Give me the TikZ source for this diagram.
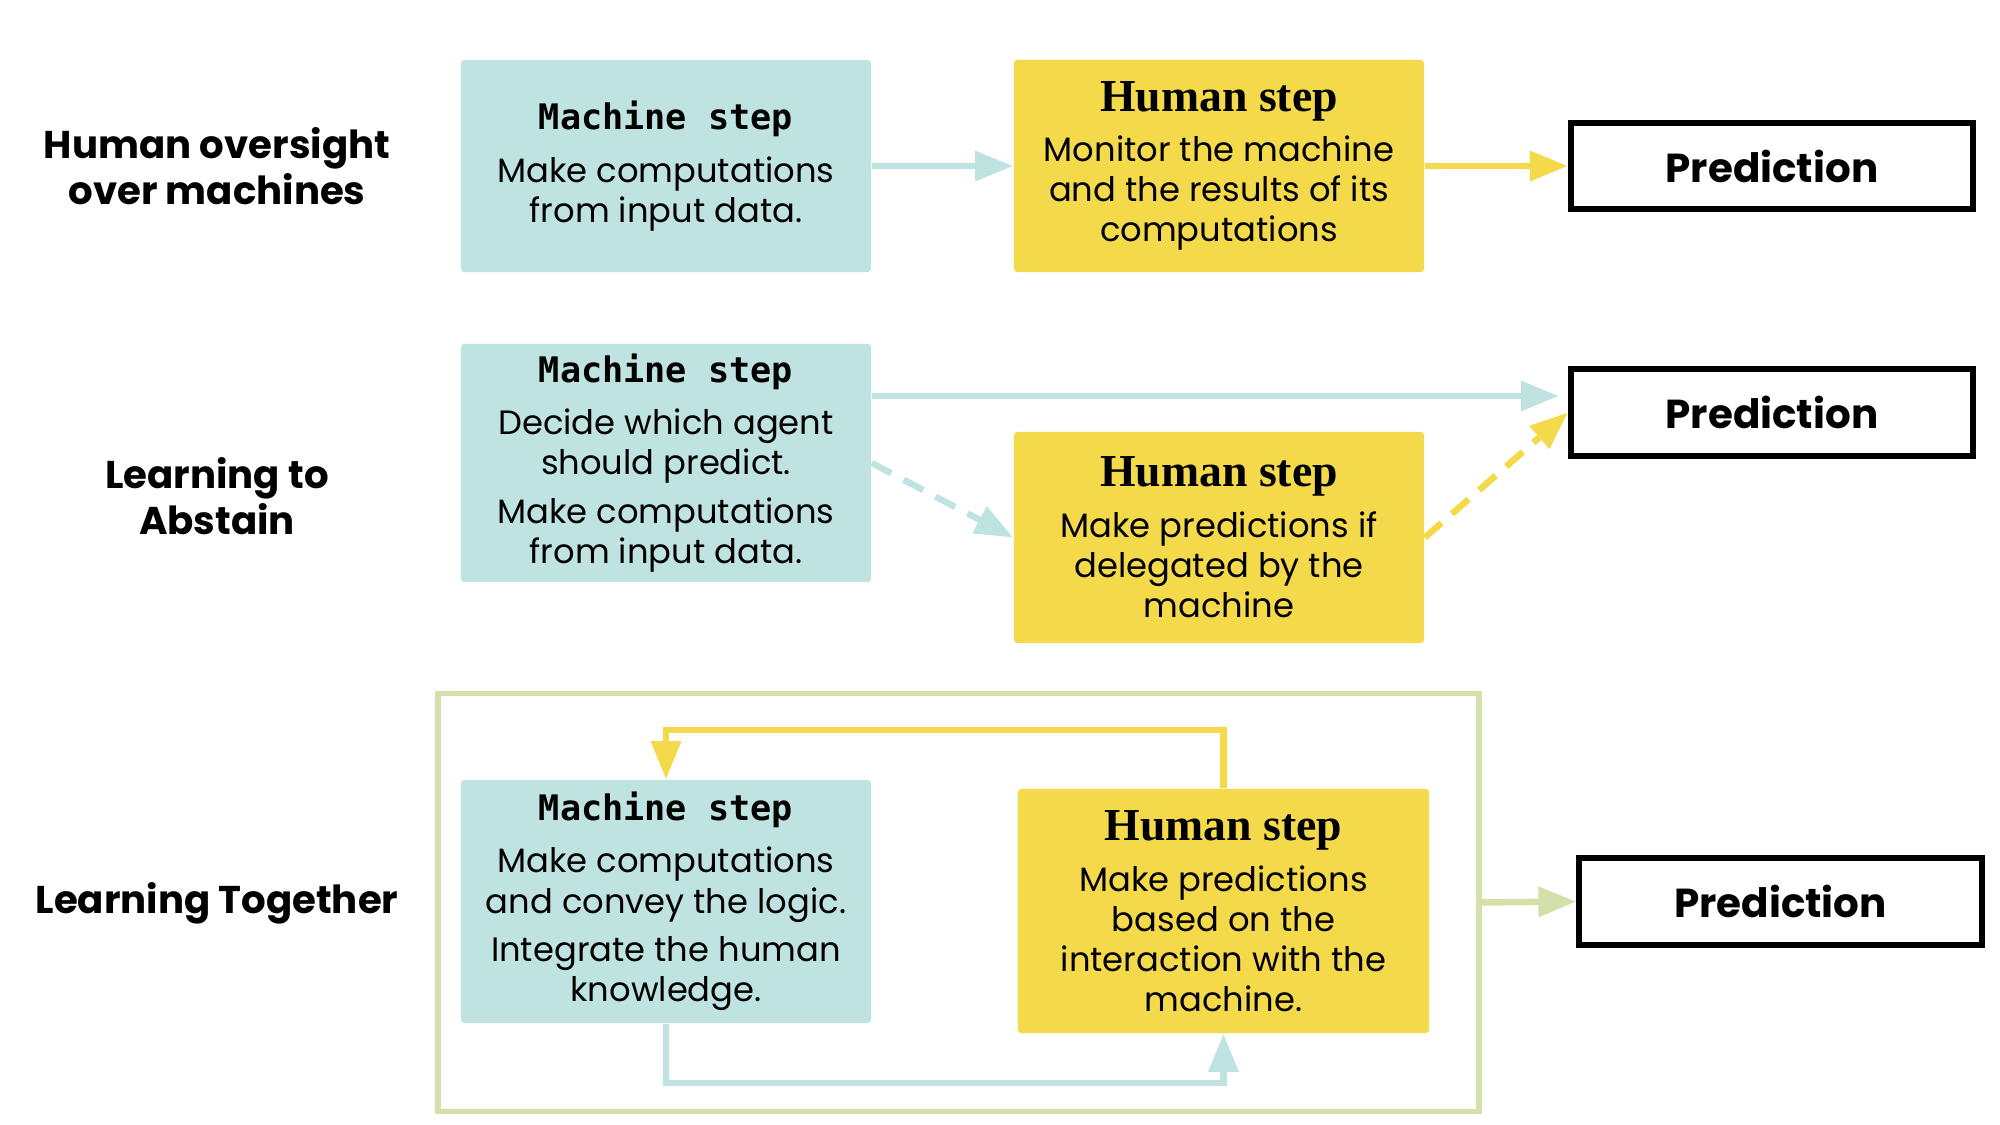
\documentclass[tikz,border=0pt]{standalone}
\usepackage{fontspec}
\setmainfont{Poppins}
\newfontfamily\monofont{DejaVu Sans Mono}
\newfontfamily\serifont{Liberation Serif}
\usetikzlibrary{arrows.meta}
\definecolor{mteal}{RGB}{191,227,224}
\definecolor{hyellow}{RGB}{244,218,75}
\definecolor{fgreen}{RGB}{212,224,170}
\newcommand\mstep{{\monofont\bfseries\fontsize{10}{12}\selectfont Machine step}}
\newcommand\hstep{{\serifont\bfseries\fontsize{13}{15}\selectfont Human step}}
\begin{document}
\begin{tikzpicture}[x=0.01cm,y=-0.01cm,mach/.style={shape=rectangle,fill=mteal,rounded corners=1pt,minimum width=4.1cm,align=center,inner sep=0pt,font=\fontsize{9.6}{11.4}\selectfont},hum/.style={mach,fill=hyellow},pred/.style={shape=rectangle,draw=black,line width=0.06cm,minimum width=4.02cm,minimum height=0.86cm,font=\fontsize{11.5}{14}\selectfont\bfseries},lab/.style={align=center,font=\fontsize{11}{13}\selectfont\bfseries},tarr/.style={draw=mteal,line width=0.065cm,-{Triangle[length=0.38cm,width=0.29cm]}},yarr/.style={tarr,draw=hyellow},garr/.style={tarr,draw=fgreen},dsh/.style={dash pattern=on 0.22cm off 0.14cm},frame/.style={shape=rectangle,draw=fgreen,line width=0.055cm,minimum width=10.4cm,minimum height=4.18cm}]
\def\xl{217};
\def\xm{666};
\def\xh{1219};
\def\xp{1772};

\useasboundingbox (0,0) rectangle (2000,1125);

\node[lab] (L1) at (\xl,166) {Human oversight\\over machines};
\node[lab] (L2) at (\xl,496) {Learning to\\Abstain};
\node[lab] (L3) at (\xl,903) {Learning Together};

\node[mach,minimum height=2.12cm] (M1) at (\xm,166) {\mstep\\[3.5pt]Make computations\\from input data.};
\node[hum,minimum height=2.12cm] (H1) at (\xh,166) {\hstep\\[3pt]Monitor the machine\\and the results of its\\computations};
\node[pred] (P1) at (\xp,166) {Prediction};
\draw[tarr] (M1.east) -- (H1.west);
\draw[yarr] (H1.east) -- (P1.west);

\node[mach,minimum height=2.38cm] (M2) at (\xm,463) {\mstep\\[3.5pt]Decide which agent\\should predict.\\[2.5pt]Make computations\\from input data.};
\node[hum,minimum height=2.11cm] (H2) at (\xh,537.5) {\hstep\\[3pt]Make predictions if\\delegated by the\\machine};
\node[pred] (P2) at (\xp,412.5) {Prediction};
\draw[tarr] ([shift={(0,-67)}]M2.east) -- ([shift={(-9,-16.5)}]P2.west);
\draw[tarr,dsh] (M2.east) -- (H2.west);
\draw[yarr,dsh] (H2.east) -- (P2.west);

\node[frame] (F) at (958.5,902.5) {};
\node[mach,minimum height=2.43cm] (M3) at (\xm,901.5) {\mstep\\[3.5pt]Make computations\\and convey the logic.\\[2.5pt]Integrate the human\\knowledge.};
\node[hum,minimum height=2.44cm,minimum width=4.11cm] (H3) at (1223.5,911) {\hstep\\[3pt]Make predictions\\based on the\\interaction with the\\machine.};
\node[pred] (P3) at (1780.5,901.5) {Prediction};
\draw[yarr] (H3.north) -- ++(0,-58) -| (M3.north);
\draw[tarr] (M3.south) -- ++(0,59) -| (H3.south);
\draw[garr] (F.east) -- (P3.west);
\end{tikzpicture}
\end{document}
